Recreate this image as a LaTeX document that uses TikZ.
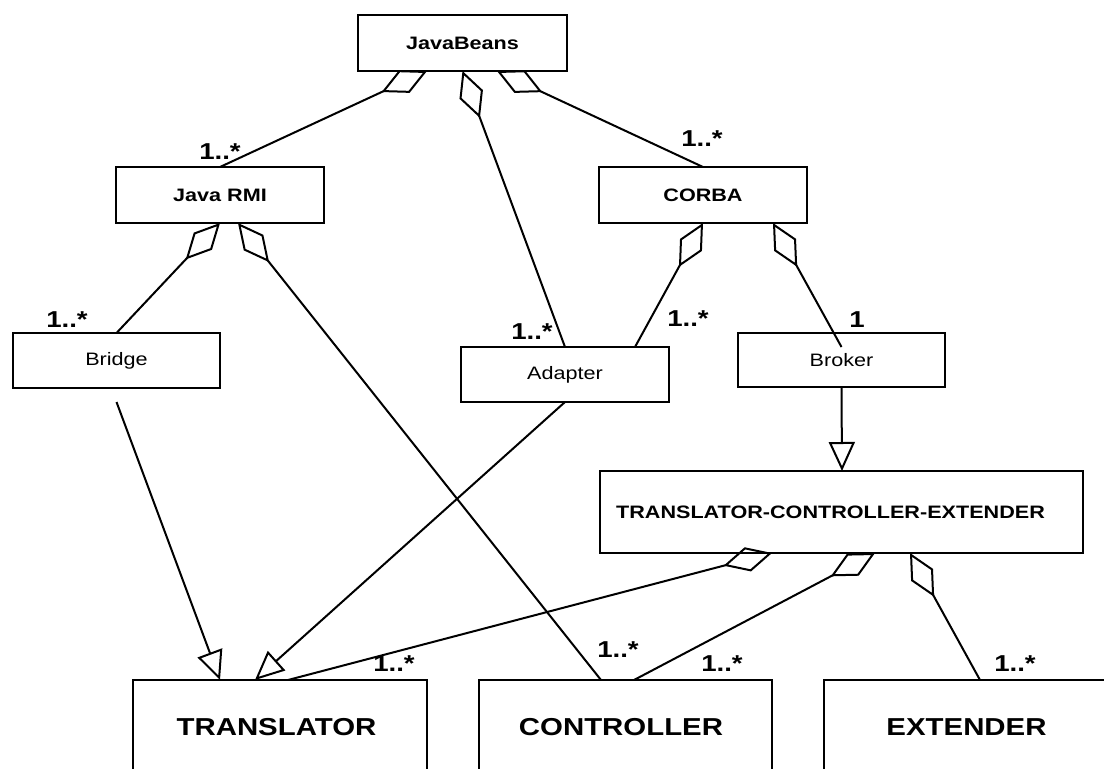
\documentclass[tikz,border=0pt]{standalone}
\usepackage{fontspec}
\setmainfont{Liberation Sans}[FakeStretch=1.2]
\usetikzlibrary{arrows.meta}
\begin{document}
\begin{tikzpicture}[x=1pt,y=-1pt,
  box/.style={draw,line width=2pt,rectangle,inner sep=0pt,outer sep=0pt,anchor=north west,align=center},
  classbold/.style={box,font=\bfseries\fontsize{18}{20}\selectfont},
  classplain/.style={box,font=\fontsize{18}{20}\selectfont},
  classbig/.style={box,font=\bfseries\fontsize{24.5}{26}\selectfont,minimum width=294pt,minimum height=94pt},
  mult/.style={inner sep=0pt,font=\bfseries\fontsize{23}{24}\selectfont},
  aggr/.style={line width=2pt,-{Diamond[open,length=50pt,width=25pt]}},
  gen/.style={line width=2pt,-{Triangle[open,length=29pt,width=26pt]}}
]
\useasboundingbox (0,0) rectangle (1104,769);
\clip (0,0) rectangle (1104,769);

% classes
\node[classbold,minimum width=209pt,minimum height=56pt] (jb) at (358,15) {JavaBeans};
\node[classbold,minimum width=208pt,minimum height=56pt] (jrmi) at (116,167) {Java RMI};
\node[classbold,minimum width=208pt,minimum height=56pt] (corba) at (599,167) {CORBA};
\node[classplain,minimum width=207pt,minimum height=55pt] (bridge) at (13,333) {Bridge};
\node[classplain,minimum width=208pt,minimum height=55pt] (adapter) at (461,347) {Adapter};
\node[classplain,minimum width=207pt,minimum height=54pt] (broker) at (738,333) {\raisebox{-4pt}{Broker}};
\node[classbold,minimum width=483pt,minimum height=82pt] (tce) at (600,471) {\hspace*{-22pt}TRANSLATOR-CONTROLLER-EXTENDER};
\node[classbig] (trans) at (133,680) {\hspace*{-7pt}TRANSLATOR};
\node[classbig,minimum width=293pt] (ctrl) at (479,680) {\hspace*{-9pt}CONTROLLER};
\node[classbig] (ext) at (824,680) {\hspace*{-9pt}EXTENDER};

% aggregations
\draw[aggr] (jrmi.north) -- ([xshift=69pt]jb.south west);
\draw[aggr] (adapter.north) -- (jb.south);
\draw[aggr] (corba.north) -- ([xshift=139pt]jb.south west);
\draw[aggr] (bridge.north) -- (jrmi.south);
\draw[aggr] ([xshift=122pt]ctrl.north west) -- ([xshift=122pt]jrmi.south west);
\draw[aggr] ([xshift=174pt]adapter.north west) -- (corba.south);
\draw[aggr] ([yshift=-14pt]broker.north) -- ([xshift=174pt]corba.south west);
\draw[aggr] ([xshift=155pt]trans.north west) -- ([xshift=172pt]tce.south west);
\draw[aggr] ([xshift=155pt]ctrl.north west) -- ([xshift=275pt]tce.south west);
\draw[aggr] ([xshift=156pt]ext.north west) -- ([xshift=310pt]tce.south west);

% generalizations
\draw[gen] (broker.south) -- ([xshift=242pt]tce.north west);
\draw[gen] ([yshift=-14pt]bridge.south) -- ([xshift=87pt]trans.north west);
\draw[gen] (adapter.south) -- ([xshift=122pt]trans.north west);

% multiplicities
\node[mult] (m1) at (220,152) {1..*};
\node[mult] (m2) at (702,139) {1..*};
\node[mult] (m3) at (67,320) {1..*};
\node[mult] (m4) at (532,332) {1..*};
\node[mult] (m5) at (688,319) {1..*};
\node[mult] (m6) at (857,320) {1};
\node[mult] (m7) at (394,664) {1..*};
\node[mult] (m8) at (618,650) {1..*};
\node[mult] (m9) at (722,664) {1..*};
\node[mult] (m10) at (1015,664) {1..*};
\end{tikzpicture}
\end{document}
